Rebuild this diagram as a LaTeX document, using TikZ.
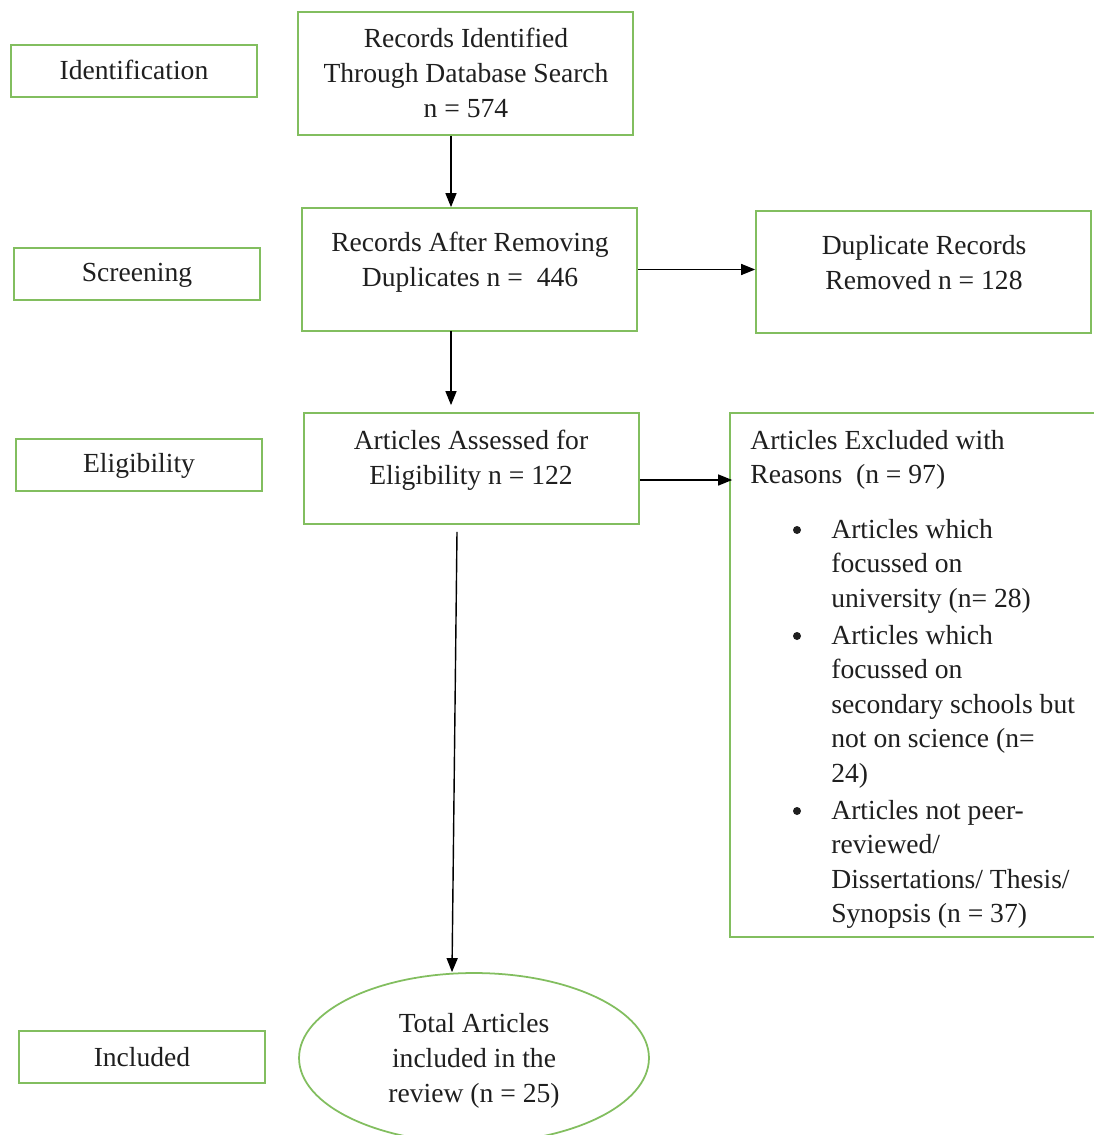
\documentclass[tikz,border=0pt]{standalone}
\usepackage{fontspec}
\setmainfont{Liberation Serif}
\usetikzlibrary{arrows.meta,shapes.geometric}
\definecolor{bgreen}{RGB}{130,190,95}
\begin{document}
\begin{tikzpicture}[x=0.02cm,y=-0.02cm,
 box/.style={draw=bgreen,line width=1pt,rectangle,inner sep=0pt},
 txt/.style={font=\fontsize{15.7}{19.9}\selectfont,align=center,inner sep=0pt,text=black!88},
 ltxt/.style={font=\fontsize{15.7}{19.6}\selectfont,align=left,inner sep=0pt,anchor=north west,text=black!88},
 arr/.style={-{Triangle[length=2.8mm,width=2.2mm]},line width=0.8pt},
 dot/.style={circle,fill=black!88,inner sep=0pt,minimum size=0.16cm}]
\useasboundingbox (0,0) rectangle (1093,1135);
\fill[white] (0,0) rectangle (1093,1135);
% stage labels
\node[box,minimum width=4.92cm,minimum height=1.04cm] (ident) at (134,71) {};
\node[txt] (identt) at (134,70) {Identification};
\node[box,minimum width=4.92cm,minimum height=1.04cm] (screen) at (137,274) {};
\node[txt] (screent) at (137,275) {Screening};
\node[box,minimum width=4.92cm,minimum height=1.04cm] (elig) at (139,465) {};
\node[txt] (eligt) at (139,466) {Eligibility};
\node[box,minimum width=4.92cm,minimum height=1.04cm] (incl) at (142,1057) {};
\node[txt] (inclt) at (142,1057) {Included};
% main boxes
\node[box,minimum width=6.7cm,minimum height=2.46cm] (recid) at (465.5,73.5) {};
\node[txt] (recidt) at (466,73) {Records Identified\\Through Database Search\\n = 574};
\node[box,minimum width=6.7cm,minimum height=2.46cm] (recafter) at (469.5,269.5) {};
\node[txt] (recaftert) at (470,262) {Records After Removing\\Duplicates n =\ \ 446};
\node[box,minimum width=6.7cm,minimum height=2.44cm] (dup) at (923.5,272) {};
\node[txt] (dupt) at (924,263) {Duplicate Records\\Removed n = 128};
\node[box,minimum width=6.7cm,minimum height=2.22cm] (assessed) at (471.5,468.5) {};
\node[txt] (assessedt) at (471,460) {Articles Assessed for\\Eligibility n = 122};
\node[box,minimum width=7.32cm,minimum height=10.48cm] (excl) at (913,675) {};
\node[ltxt] (exclh) at (750,430) {Articles Excluded with\\Reasons\ \ (n = 97)};
\node[dot] (b1) at (797,530) {};
\node[ltxt] (i1) at (831,519) {Articles which\\focussed on\\university (n= 28)};
\node[dot] (b2) at (797,636) {};
\node[ltxt] (i2) at (831,625) {Articles which\\focussed on\\secondary schools but\\not on science (n=\\24)};
\node[dot] (b3) at (797,811) {};
\node[ltxt] (i3) at (831,800) {Articles not peer-\\reviewed/\\Dissertations/ Thesis/\\Synopsis (n = 37)};
\node[draw=bgreen,ellipse,line width=1pt,minimum width=7cm,minimum height=3.4cm,inner sep=0pt] (total) at (474,1058) {};
\node[txt] (totalt) at (474,1061) {Total Articles\\included in the\\review (n = 25)};
% connectors
\coordinate (cx) at (451,0);
\coordinate (r4) at (0,480);
\draw[arr] (recid.south -| cx) -- (recafter.north -| cx);
\draw[arr] ([yshift=0.02cm]recafter.south -| cx) -- ([yshift=0.14cm]assessed.north -| cx);
\draw[arr] (recafter.east) -- (dup.west |- recafter.east);
\draw[arr] (assessed.east |- r4) -- ([xshift=0.06cm]excl.west |- r4);
\draw[arr] ([shift={(-14.5,7)}]assessed.south) -- ([shift={(-22,0)}]total.north);
\end{tikzpicture}
\end{document}
